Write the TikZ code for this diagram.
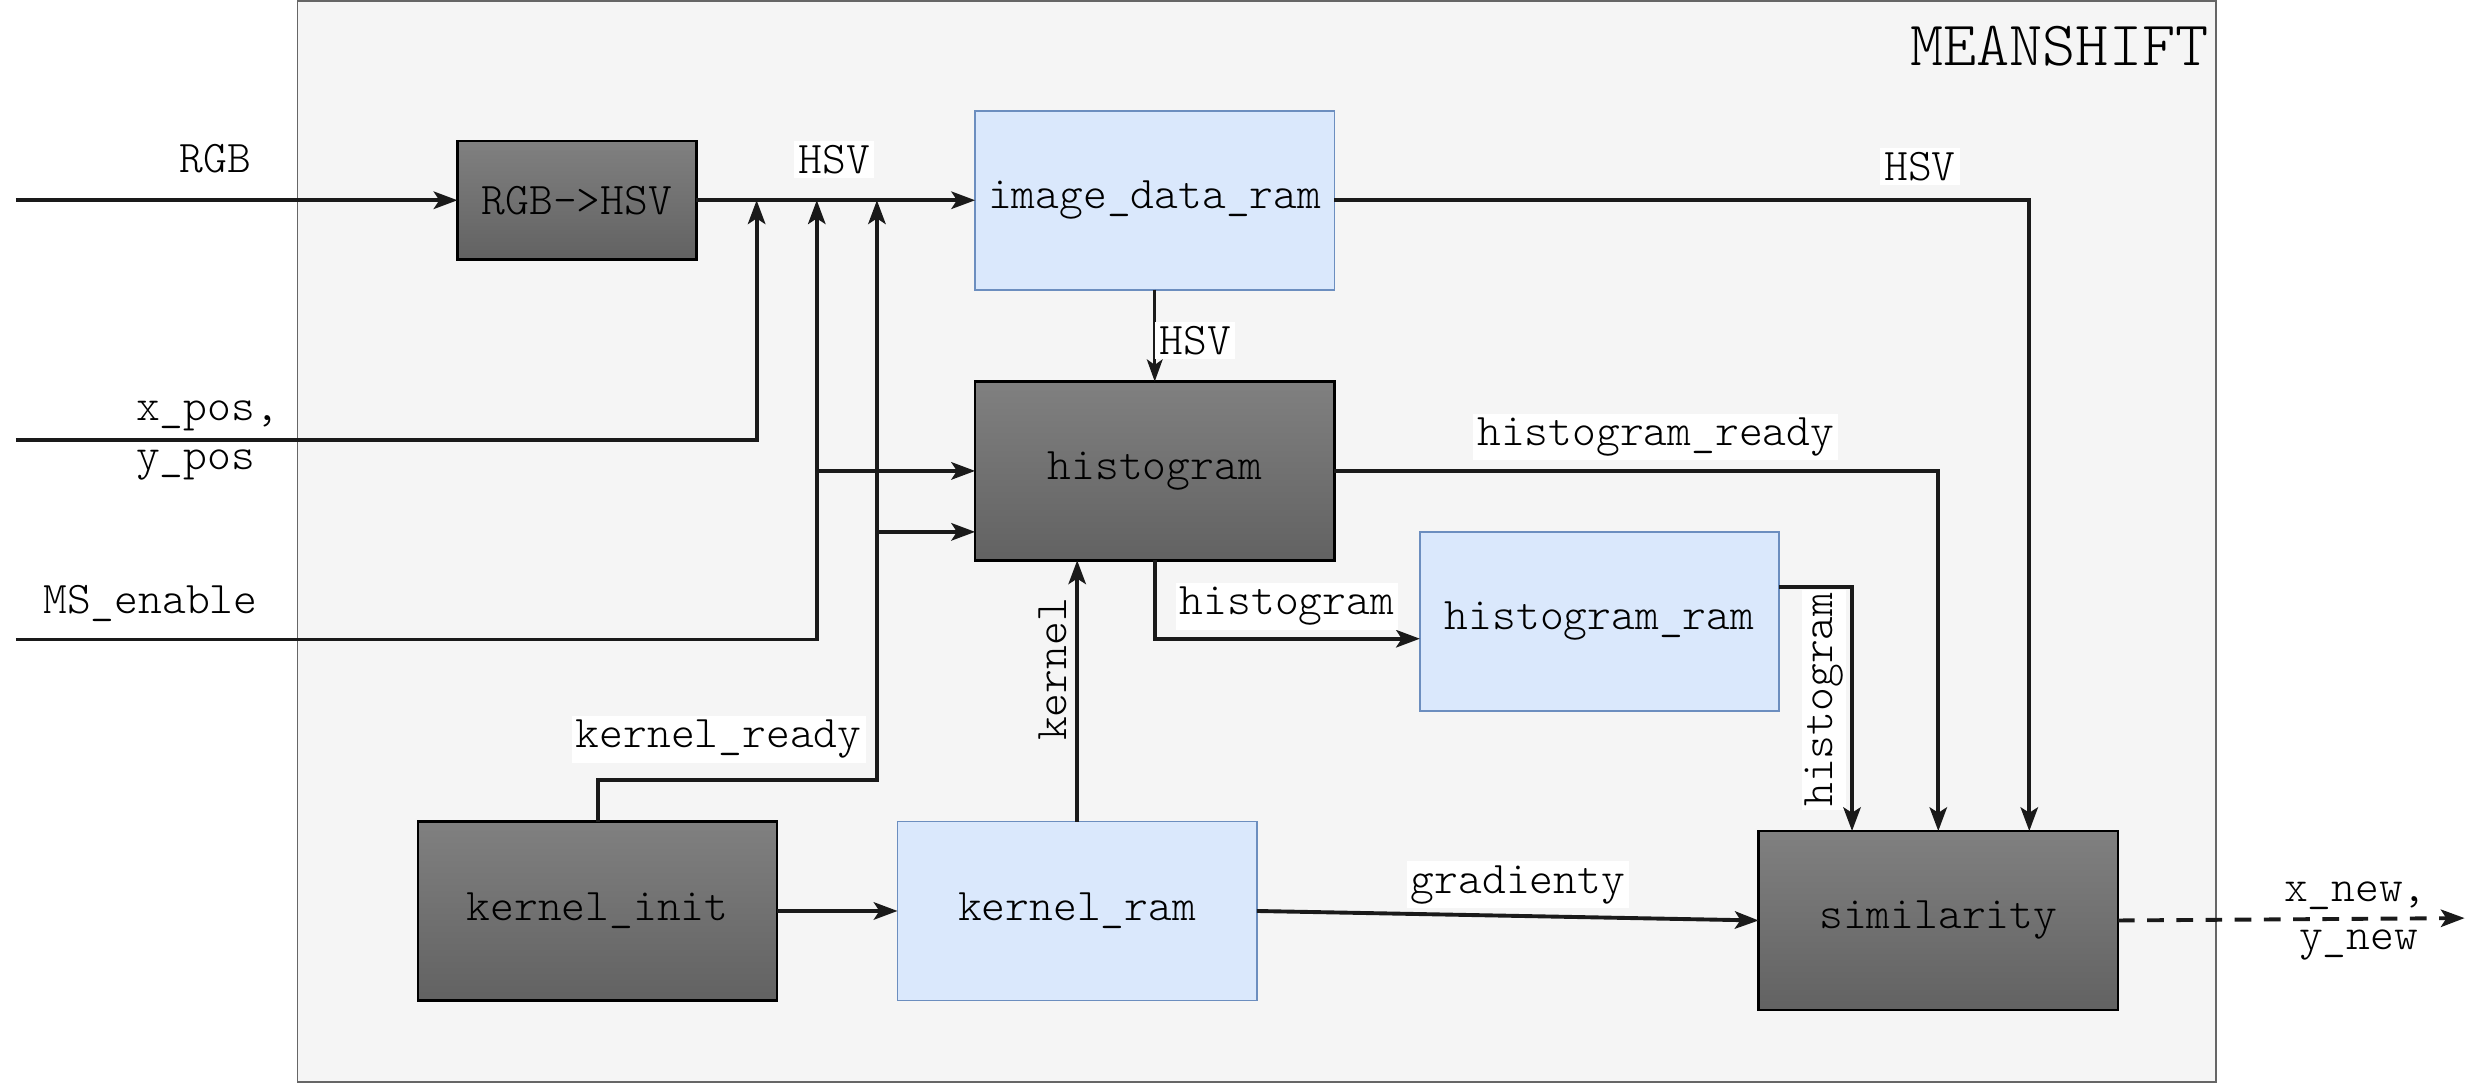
\documentclass[tikz,border=0pt]{standalone}
\usepackage{fontspec}
\newfontfamily\lmlight{Latin Modern Mono Light}
\usetikzlibrary{arrows.meta}
\definecolor{outerfill}{HTML}{F5F5F5}
\definecolor{outerdraw}{HTML}{666666}
\definecolor{ramfill}{HTML}{DAE8FC}
\definecolor{ramdraw}{HTML}{6C8EBF}
\definecolor{darktop}{HTML}{808080}
\definecolor{darkbot}{HTML}{626262}
\definecolor{linecol}{HTML}{1A1A1A}
\tikzset{
  txt/.style={font=\lmlight\fontsize{16.3}{19}\selectfont},
  lbl/.style={txt, inner sep=1.5pt},
  wlbl/.style={lbl, fill=white},
  darkbox/.style={txt, draw=black, line width=0.9pt, top color=darktop, bottom color=darkbot,
    minimum width=4.54cm, minimum height=2.26cm, inner sep=0pt, outer sep=0pt},
  rambox/.style={txt, draw=ramdraw, line width=0.6pt, fill=ramfill,
    minimum width=4.54cm, minimum height=2.26cm, inner sep=0pt, outer sep=0pt},
  arr/.style={draw=linecol, line width=1.4pt, -{Stealth[length=0.3cm, width=0.22cm, inset=0.07cm]}},
  arrthin/.style={draw=linecol, line width=1pt, -{Stealth[length=0.28cm, width=0.2cm, inset=0.07cm]}},
}
\begin{document}
\begin{tikzpicture}[x=0.02cm, y=-0.02cm]
\useasboundingbox (0,0) rectangle (1568,684);
% outer block
\draw[fill=outerfill, draw=outerdraw, line width=0.6pt] (188,0.5) rectangle (1400,683.5);
\node[lbl, anchor=center, font=\lmlight\fontsize{22.7}{26}\selectfont] (title) at (1301,29) {MEANSHIFT};

% blocks
\node[darkbox, minimum width=3.02cm, minimum height=1.5cm] (rgbhsv) at (364.5,126.5) {RGB->HSV};
\node[rambox] (imgram) at (729.5,126.5) {image\_data\_ram};
\node[darkbox] (hist) at (729.5,297.5) {histogram};
\node[rambox] (histram) at (1010.5,392.5) {histogram\_ram};
\node[darkbox] (kinit) at (377.5,575.5) {kernel\_init};
\node[rambox] (kram) at (680.5,575.5) {kernel\_ram};
\node[darkbox] (sim) at (1224.5,581.5) {similarity};

% coordinates
\coordinate (rgbin) at (10,126.5);
\coordinate (xin) at (10,278);
\coordinate (msin) at (10,404);
\coordinate (j1) at (478,126.5);
\coordinate (j2) at (516,126.5);
\coordinate (j3) at (554,126.5);
\coordinate (msb) at (516,297.5);
\coordinate (krb) at (554,336);
\coordinate (outc) at (1557,580);

% label with background, drawn below connectors
\node[wlbl, rotate=90, inner sep=1pt] (lh2) at (1152,442) {histogram};

% connectors
\draw[arr] (rgbin) -- (rgbhsv.west);
\draw[arr] (rgbhsv.east) -- (imgram.west);
\draw[arr] (xin) -| (j1);
\draw[arr] (msin) -| (j2);
\draw[arr] (msb) -- (msb -| hist.west);
\draw[arr] (kinit.north) -- ++(0,-26) -| (j3);
\draw[arr] (krb) -- (krb -| hist.west);
\draw[arrthin] (imgram.south) -- (hist.north);
\draw[arr] (imgram.east) -| ([xshift=1.15cm]sim.north);
\draw[arr] (hist.east) -| (sim.north);
\draw[arr] (hist.south) |- ([yshift=-0.22cm]histram.west);
\draw[arr] ([yshift=0.43cm]histram.east) -| ([xshift=-1.09cm]sim.north);
\draw[arr] (kram.north) -- (kram.north |- hist.south);
\draw[arr] (kinit.east) -- (kram.west);
\draw[arr] (kram.east) -- (sim.west);
\draw[arr, dashed, dash pattern=on 6pt off 4.5pt] (sim.east) -- (outc);

% labels
\node[lbl] (lrgb) at (136,100) {RGB};
\node[wlbl] (lhsv1) at (527,101) {HSV};
\node[lbl, anchor=west] (lxpos) at (83,263) {x\_pos,};
\node[lbl, anchor=west] (lypos) at (83,294) {y\_pos};
\node[lbl] (lms) at (95,381) {MS\_enable};
\node[wlbl] (lkr) at (454,467) {kernel\_ready};
\node[wlbl] (lhsv2) at (755,215) {HSV};
\node[wlbl] (lhsv3) at (1213,105) {HSV};
\node[wlbl] (lhr) at (1046,276) {histogram\_ready};
\node[wlbl] (lh1) at (813,383) {histogram};
\node[lbl, rotate=90] (lk) at (665,423) {kernel};
\node[wlbl] (lgr) at (959,559) {gradienty};
\node[lbl] (lxn) at (1488,566) {x\_new,};
\node[lbl] (lyn) at (1490,597) {y\_new};
\end{tikzpicture}
\end{document}
